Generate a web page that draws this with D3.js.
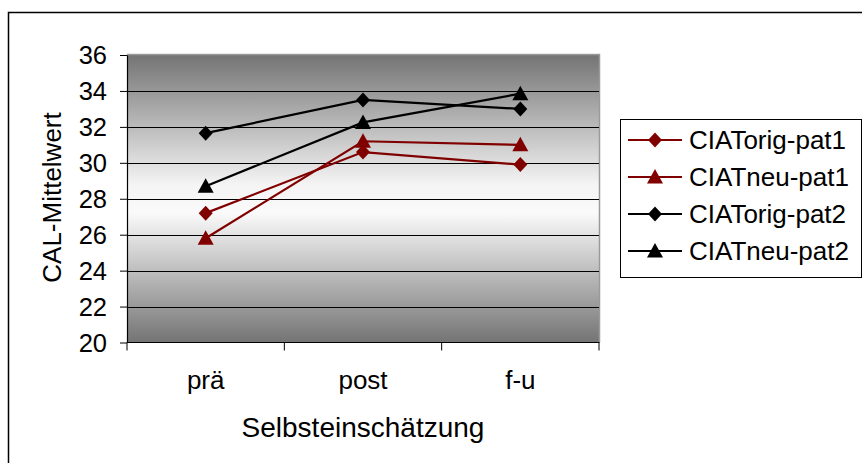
<!DOCTYPE html>
<html><head><meta charset="utf-8">
<script src="https://cdn.jsdelivr.net/npm/d3@7"></script>
<style>
html,body{margin:0;padding:0;background:#fff;overflow:hidden}
text{font-family:"Liberation Sans",Arial,sans-serif;fill:#000}
</style></head>
<body>
<svg id="c" width="862" height="463"></svg>
<script>
const categories = ["prä", "post", "f-u"];
const seriesNames = ["CIATorig-pat1", "CIATneu-pat1", "CIATorig-pat2", "CIATneu-pat2"];
const origPat1 = [27.2, 30.6, 29.9];
const neuPat1  = [25.8, 31.2, 31.0];
const origPat2 = [31.65, 33.5, 33.0];
const neuPat2  = [28.7, 32.25, 33.85];
const yTicks = [20, 22, 24, 26, 28, 30, 32, 34, 36];
const xTitle = "Selbsteinschätzung";
const yTitle = "CAL-Mittelwert";

const series = [
  {name: seriesNames[0], values: origPat1, color: "#800000", shape: "diamond"},
  {name: seriesNames[1], values: neuPat1,  color: "#800000", shape: "triangle"},
  {name: seriesNames[2], values: origPat2, color: "#000000", shape: "diamond"},
  {name: seriesNames[3], values: neuPat2,  color: "#000000", shape: "triangle"}
];

const svg = d3.select("#c");
const L = 127, R = 599, T = 55, B = 342.5;

// outer chart border (extends beyond viewport right/bottom)
svg.append("rect").attr("x", 8.5).attr("y", 12.5).attr("width", 900).attr("height", 500)
  .attr("fill", "#fff").attr("stroke", "#000").attr("stroke-width", 1.5);

const defs = svg.append("defs");
const grad = defs.append("linearGradient").attr("id", "bg").attr("x1", 0).attr("y1", 0).attr("x2", 0).attr("y2", 1);
[[0, "#747474"], [0.45, "#f4f4f4"], [0.55, "#fafafa"], [1, "#747474"]].forEach(s =>
  grad.append("stop").attr("offset", s[0]).attr("stop-color", s[1]));

const x = d3.scaleBand().domain(categories).range([L, R]).paddingInner(0).paddingOuter(0);
const y = d3.scaleLinear().domain([20, 36]).range([B, T]);

// plot area
svg.append("rect").attr("x", L).attr("y", T).attr("width", R - L).attr("height", B - T)
  .attr("fill", "url(#bg)");
svg.append("path").attr("d", `M${L},${T - 0.5}H${R + 0.5}V${B}`).attr("fill", "none")
  .attr("stroke", "#9a9a9a").attr("stroke-width", 1.5);

// gridlines
svg.append("g").selectAll("line").data(yTicks.filter(v => v > 20 && v < 36)).join("line")
  .attr("x1", L).attr("x2", R).attr("y1", d => Math.round(y(d)) + 0.5).attr("y2", d => Math.round(y(d)) + 0.5)
  .attr("stroke", "#000").attr("stroke-width", 1);

// y axis
const yAxis = svg.append("g").attr("transform", `translate(${L},0)`)
  .call(d3.axisLeft(y).tickValues(yTicks).tickFormat(d3.format("d")).tickSizeInner(7).tickSizeOuter(0).tickPadding(13));
yAxis.select(".domain").attr("stroke", "#000").attr("stroke-width", 1.2);
yAxis.selectAll(".tick line").attr("stroke", "#000");
yAxis.selectAll("text").style("font-size", "25.5px").attr("dy", "0.35em")
  .style("font-family", '"Liberation Sans",Arial,sans-serif');

// x axis
const xg = svg.append("g");
xg.append("line").attr("x1", L).attr("x2", R + 0.5).attr("y1", B).attr("y2", B).attr("stroke", "#000").attr("stroke-width", 1.2);
const bounds = categories.map(c => x(c)).concat([x.range()[1]]);
xg.selectAll("line.tk").data(bounds).join("line").attr("class", "tk")
  .attr("x1", d => d).attr("x2", d => d).attr("y1", B).attr("y2", B + 8).attr("stroke", "#000");
xg.selectAll("text").data(categories).join("text")
  .attr("x", d => x(d) + x.bandwidth() / 2).attr("y", 389).attr("text-anchor", "middle")
  .style("font-size", "26px").text(d => d);

// titles
svg.append("text").attr("x", 363).attr("y", 437).attr("text-anchor", "middle")
  .style("font-size", "28px").text(xTitle);
svg.append("text").attr("transform", "translate(61,197.5) rotate(-90)").attr("text-anchor", "middle")
  .style("font-size", "26px").text(yTitle);

// marker helper
function markerPath(shape) {
  if (shape === "diamond") return "M0,-7.5L7,0L0,7.5L-7,0Z";
  return "M0,-8L8,6.5L-8,6.5Z";
}

const cx = c => x(c) + x.bandwidth() / 2;
const line = d3.line().x((d, i) => cx(categories[i])).y(d => y(d));

const sg = svg.append("g").selectAll("g").data(series).join("g");
sg.append("path").attr("d", d => line(d.values)).attr("fill", "none")
  .attr("stroke", d => d.color).attr("stroke-width", 2.2);
sg.each(function(s) {
  d3.select(this).selectAll("path.m").data(s.values).join("path").attr("class", "m")
    .attr("transform", (v, i) => `translate(${cx(categories[i])},${y(v)})`)
    .attr("d", markerPath(s.shape)).attr("fill", s.color);
});

// legend
const lg = svg.append("g");
lg.append("rect").attr("x", 620.5).attr("y", 119.5).attr("width", 241).attr("height", 158)
  .attr("fill", "#fff").attr("stroke", "#000").attr("stroke-width", 1);
const rows = lg.selectAll("g").data(series).join("g")
  .attr("transform", (d, i) => `translate(0,${140 + i * 37})`);
rows.append("line").attr("x1", 628).attr("x2", 682).attr("y1", 0).attr("y2", 0)
  .attr("stroke", d => d.color).attr("stroke-width", 2.2);
rows.append("path").attr("transform", "translate(655,0)").attr("d", d => markerPath(d.shape)).attr("fill", d => d.color);
rows.append("text").attr("x", 689).attr("y", 0).attr("dy", "0.35em").style("font-size", "26px").text(d => d.name);
</script>
</body></html>
